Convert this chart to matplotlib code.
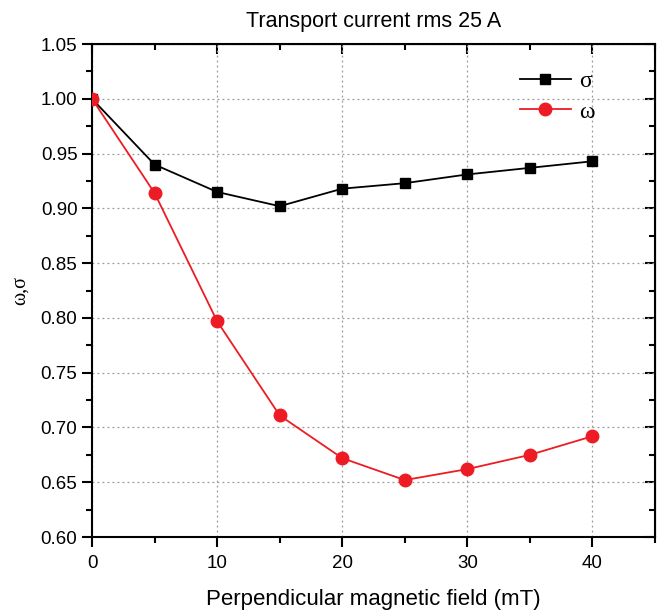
import numpy as np
import matplotlib.pyplot as plt
from matplotlib.ticker import MultipleLocator

# поле (мТ) и значения
field = [0, 5, 10, 15, 20, 25, 30, 35, 40]
sigma = [1.000, 0.940, 0.915, 0.902, 0.918, 0.923, 0.931, 0.937, 0.943]
omega = [1.000, 0.914, 0.797, 0.711, 0.672, 0.652, 0.662, 0.675, 0.692]

plt.rcParams['font.family'] = ['Liberation Sans', 'DejaVu Sans']

fig = plt.figure(figsize=(6.64, 6.12), dpi=100)
ax = fig.add_axes([0.1386, 0.1225, 0.8478, 0.8055])

ax.plot(field, sigma, color='black', lw=1.3, marker='s', ms=7.5, label='σ', zorder=3)
ax.plot(field, omega, color='#ed1c24', lw=1.3, marker='o', ms=9, label='ω', zorder=3)

ax.set_xlim(0, 45)
ax.set_ylim(0.60, 1.05)
ax.xaxis.set_major_locator(MultipleLocator(10))
ax.xaxis.set_minor_locator(MultipleLocator(5))
ax.yaxis.set_major_locator(MultipleLocator(0.05))
ax.yaxis.set_minor_locator(MultipleLocator(0.025))
ax.yaxis.set_major_formatter(plt.FormatStrFormatter('%.2f'))

ax.grid(True, which='major', ls=(0, (1.5, 2.5)), color='#999999', lw=0.9)
for s in ax.spines.values():
    s.set_linewidth(1.5)

ax.tick_params(which='major', direction='out', length=7, width=1.5, labelsize=13.5)
ax.tick_params(axis='x', which='major', pad=6)
ax.tick_params(which='minor', direction='out', length=4, width=1.5)

# верх и право: засечки внутрь
top = ax.secondary_xaxis('top')
top.xaxis.set_major_locator(MultipleLocator(10))
top.xaxis.set_minor_locator(MultipleLocator(5))
top.tick_params(which='major', direction='in', length=7, width=1.5, labeltop=False)
top.tick_params(which='minor', direction='in', length=4, width=1.5)
right = ax.secondary_yaxis('right')
right.yaxis.set_major_locator(MultipleLocator(0.05))
right.yaxis.set_minor_locator(MultipleLocator(0.025))
right.tick_params(which='major', direction='in', length=7, width=1.5, labelright=False)
right.tick_params(which='minor', direction='in', length=4, width=1.5)

ax.set_title('Transport current rms 25 A', fontsize=15.5, pad=12)
ax.set_xlabel('Perpendicular magnetic field (mT)', fontsize=16, labelpad=12)
ax.set_ylabel('ω,σ', fontsize=14.5, family=['Liberation Serif', 'DejaVu Serif'], labelpad=8)

ax.legend(loc='upper right', frameon=False, prop={'family': ['Liberation Serif', 'DejaVu Serif'], 'size': 17},
          handlelength=2.15, handletextpad=0.35, labelspacing=0.4, bbox_to_anchor=(0.93, 0.99))

fig.savefig('out.png', dpi=100)
